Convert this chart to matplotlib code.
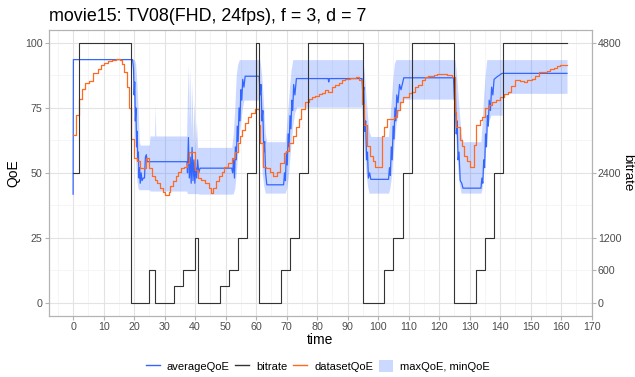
import matplotlib
matplotlib.use("Agg")
import matplotlib.pyplot as plt
from matplotlib.lines import Line2D
from matplotlib.patches import Patch
import numpy as np

plt.rcParams['font.family'] = ['Liberation Sans', 'DejaVu Sans']

# ---------------- data ----------------
# bitrate (step, value holds from t until next t)
bitrate_t = [0, 2, 19, 25, 27, 33, 36, 40, 41, 48, 51, 54, 57, 60, 61, 68, 71, 74, 77,
             95, 102, 105, 108, 111, 125, 132, 135, 138, 141, 161.9]
bitrate_v = [2400, 4800, 0, 600, 0, 300, 600, 1200, 0, 300, 600, 1200, 2400, 4800, 0,
             600, 1200, 2400, 4800, 0, 600, 1200, 2400, 4800, 0, 600, 1200, 2400, 4800, 4800]

# datasetQoE (step)
dataset_t = [0.1, 1.0, 2.0, 3.0, 4.0, 5.3, 6.4, 8.0, 9.1, 10.2, 11.3, 12.6, 14.1, 15.4, 16.1,
             16.7, 17.8, 18.3, 19.1, 19.8, 20.9, 21.9, 23.8, 24.9, 25.8, 26.7, 27.6, 28.6,
             29.5, 30.2, 31.3, 31.9, 32.8, 33.7, 34.5, 35.4, 36.3, 37.2, 38.0, 39.8, 40.9,
             41.9, 43.3, 44.4, 45.2, 46.0, 46.8, 47.9, 48.7, 49.6, 50.9, 52.0, 53.1, 54.0,
             54.8, 55.5, 56.4, 57.3, 58.4, 59.5, 60.8, 61.3, 62.4, 63.3, 64.4, 65.5, 66.8,
             67.9, 69.0, 69.9, 70.9, 72.1, 73.1, 73.9, 74.7, 76.1, 77.2, 78.3, 79.4, 80.5,
             81.6, 82.6, 83.7, 84.8, 85.9, 87.0, 88.1, 89.2, 90.8, 91.9, 92.8, 93.6, 94.7,
             95.5, 96.3, 97.2, 98.3, 99.1, 101.3, 102.0, 102.9, 105.1, 106.2, 107.2, 108.3,
             110.0, 111.0, 112.1, 113.2, 114.3, 115.4, 116.5, 118.2, 119.3, 120.9, 122.6,
             124.2, 125.1, 125.6, 126.7, 127.5, 128.3, 129.1, 130.2, 131.3, 132.2, 133.3,
             134.0, 135.1, 136.2, 137.3, 138.7, 140.1, 141.2, 142.4, 143.5, 145.0, 146.6,
             147.7, 148.8, 150.4, 151.5, 152.6, 154.3, 155.4, 156.4, 157.5, 158.6, 159.7,
             160.8, 161.9]
dataset_v = [64.6, 72.3, 78.3, 82.1, 84.7, 85.3, 88.3, 89.8, 91.4, 92.3, 93.1, 93.6, 93.9, 93.6,
             92.1, 88.9, 82.9, 74.8, 62.9, 55.6, 54.4, 51.8, 55.9, 51.8, 48.6, 47.3, 46.0,
             44.1, 42.8, 41.5, 42.8, 44.8, 46.8, 48.6, 50.5, 51.8, 52.2, 53.7, 58.2, 51.0,
             47.9, 47.3, 46.0, 44.1, 42.1, 44.1, 46.8, 48.6, 50.5, 52.4, 53.7, 55.6, 58.2,
             61.4, 64.0, 66.5, 69.1, 71.6, 73.2, 74.4, 68.4, 61.4, 52.4, 51.8, 50.5, 48.6,
             50.5, 53.7, 57.6, 58.6, 61.4, 64.0, 67.8, 70.6, 74.6, 77.4, 78.4, 79.1, 79.6,
             80.3, 80.8, 81.9, 81.2, 82.9, 83.8, 84.5, 85.7, 86.2, 86.4, 86.6, 87.0, 85.7,
             76.7, 68.4, 60.2, 56.3, 54.4, 52.4, 64.0, 67.8, 70.9, 71.4, 74.2, 77.4, 79.3,
             80.6, 81.2, 82.9, 83.8, 85.7, 86.9, 87.2, 87.6, 88.2, 87.9, 87.6, 86.9, 73.5,
             67.8, 62.7, 60.2, 56.3, 54.4, 52.4, 60.8, 68.4, 70.4, 71.4, 74.8, 76.1, 77.4,
             78.0, 79.3, 80.2, 81.2, 83.3, 85.7, 85.4, 85.0, 85.7, 86.3, 87.2, 88.9, 89.0,
             89.4, 90.1, 90.5, 91.0, 91.4, 91.4, 91.4]

# averageQoE (line)
avg_t = [0, 0.1, 19.5, 19.8, 20.0, 20.2, 20.4, 20.6, 20.8, 21.0, 21.2, 21.4, 21.6, 21.8, 22.0,
         22.3, 22.6, 23.0, 23.4, 23.7, 24.0, 24.3, 37.3, 37.5, 37.8, 38.1, 38.4, 38.7, 39.0,
         39.3, 39.6, 39.9, 40.2, 40.5, 40.8, 41.2, 41.6, 52.0, 52.3, 52.6, 52.9, 53.2, 53.5,
         53.8, 54.1, 54.4, 54.7, 55.0, 55.3, 55.6, 56.0, 56.4, 61.0, 61.3, 61.6, 61.9, 62.2,
         62.5, 62.8, 63.1, 63.5, 69.0, 69.3, 69.6, 69.9, 70.2, 70.5, 70.8, 71.1, 71.4, 71.7,
         72.0, 72.3, 72.7, 73.2, 83.6, 83.8, 84.0, 94.7, 95.0, 95.3, 95.6, 95.9, 96.2, 96.5,
         96.8, 97.2, 97.6, 103.4, 103.7, 104.0, 104.3, 104.6, 104.9, 105.2, 105.5, 105.8,
         106.1, 106.5, 107.0, 107.5, 108.4, 124.7, 125.0, 125.3, 125.6, 125.9, 126.2, 126.5,
         126.9, 127.4, 127.8, 133.7, 134.0, 134.3, 134.6, 134.9, 135.2, 135.5, 135.8, 136.1,
         136.4, 136.8, 137.2, 137.6, 138.0, 139.0, 140.6, 161.9]
avg_v = [41.8, 93.6, 93.6, 90, 80, 85, 70, 75, 60, 66, 55, 58, 48, 52, 46,
         50, 47, 48, 48, 56, 57, 54.3, 54.3, 50, 63.6, 48, 56, 46, 59.8,
         47, 55, 46, 52, 48, 55, 50, 51.8, 51.8, 50, 55, 48, 60, 55,
         68, 62, 75, 70, 82, 78, 86, 83, 87.2, 87.2, 80, 84, 70, 74,
         58, 62, 50, 45.4, 45.4, 50, 47, 58, 53, 65, 60, 72, 67, 78,
         74, 84, 80, 86.3, 86.3, 85, 86.3, 86.3, 80, 83, 66, 70, 55, 58,
         48, 50, 47.5, 47.5, 52, 49, 60, 55, 68, 63, 75, 70,
         80, 77, 84, 82, 86.6, 86.6, 78, 82, 65, 70, 55, 58,
         47, 46, 44.1, 44.1, 48, 46, 55, 52, 65, 60, 72, 68,
         78, 74, 83, 80, 86, 87, 88.3, 88.3]

# maxQoE / minQoE ribbon
rib_t = [0, 19.4, 19.7, 20.1, 20.5, 20.9, 21.3, 21.7, 22.0, 25.0, 25.2, 26.7, 26.9, 27.1,
         37.2, 37.5, 37.8, 38.1, 38.4, 38.7, 39.0, 39.3, 39.6, 40.0, 40.4, 40.8, 41.5, 52.0,
         52.5, 53.0, 53.5, 54.0, 54.5, 55.0, 55.5, 56.0, 60.8, 61.2, 61.6, 62.0, 62.5, 63.0,
         63.5, 69.5, 70.0, 70.5, 71.0, 71.5, 72.0, 72.6, 73.3, 94.6, 95.0, 95.5, 96.0, 96.5,
         97.0, 97.6, 103.4, 103.8, 104.3, 104.8, 105.3, 105.8, 106.5, 107.5, 108.4, 124.8,
         125.2, 125.7, 126.2, 126.7, 127.2, 127.8, 133.7, 134.1, 134.6, 135.1, 135.6, 136.3,
         137.0, 140.6, 140.7, 161.9]
rib_min = [93.6, 93.6, 85, 70, 55, 47, 44, 43.5, 43.5, 43.5, 43, 43, 43, 43,
           43, 42, 42, 42, 42, 42, 42, 42, 42, 42, 42, 42, 41.8, 41.8,
           42, 44, 50, 58, 65, 70, 75, 78, 78, 70, 60, 50, 45, 42.2,
           42.2, 42.2, 44, 48, 55, 62, 68, 73, 75.3, 75.3, 68, 58, 50, 45,
           42.2, 42.2, 42.2, 44, 48, 55, 62, 68, 73, 77, 78.4, 78.4,
           70, 58, 50, 45, 42.2, 42.2, 42.2, 44, 50, 57, 65, 70,
           72.2, 72.2, 80.6, 80.6]
rib_max = [93.6, 93.6, 93.6, 93.6, 92, 85, 75, 62, 60.7, 60.7, 64.2, 64.2, 76, 64.2,
           64.2, 80, 92, 70, 90, 66, 85, 62, 78, 60, 70, 59.8, 59.8, 59.8,
           65, 75, 88, 92, 93.6, 93.6, 93.6, 93.6, 93.6, 93.6, 90, 85, 75, 65,
           62, 62, 68, 76, 84, 90, 93.6, 93.6, 93.6, 93.6, 93.6, 88, 80, 72,
           66, 64, 64, 70, 78, 86, 92, 93.6, 93.6, 93.6, 93.6, 93.6,
           93.6, 88, 80, 72, 65, 62, 62, 70, 80, 88, 93.6, 93.6,
           93.6, 93.6, 93.6, 93.6]

qoe_ticks = [0, 25, 50, 75, 100]
bitrate_ticks = [0, 600, 1200, 2400, 4800]
x_ticks = list(range(0, 171, 10))
title = "movie15: TV08(FHD, 24fps), f = 3, d = 7"

# ---------------- style ----------------
c_avg = "#3366FF"
c_bit = "#333333"
c_ds = "#FF6A1F"
c_rib = (0.2, 0.4, 1.0, 0.25)
grid_major = "#E3E3E3"
grid_minor = "#F1F1F1"
border = "#B3B3B3"
txt_grey = "#4D4D4D"

W, H = 635, 377
fig = plt.figure(figsize=(W / 100, H / 100), dpi=100)
L, R, T, B = 48.7, 591.7, 30, 315.7
ax = fig.add_axes([L / W, 1 - B / H, (R - L) / W, (B - T) / H])

ax.set_xlim(-8, 170)
ax.set_ylim(-5, 105)

ax.set_xticks(x_ticks)
ax.set_xticks(np.arange(-5, 170, 10), minor=True)
ax.set_yticks(qoe_ticks)
ax.set_yticks([12.5, 37.5, 62.5, 87.5], minor=True)
ax.grid(which='major', color=grid_major, linewidth=0.8)
ax.grid(which='minor', color=grid_minor, linewidth=0.5)
ax.set_axisbelow(True)

ax.fill_between(rib_t, rib_min, rib_max, color=c_rib, linewidth=0, zorder=1)
ax.plot(avg_t, avg_v, color=c_avg, linewidth=0.9, zorder=3)
ax.step(dataset_t, dataset_v, where='post', color=c_ds, linewidth=0.9, zorder=4)

ax2 = ax.twinx()
ax2.set_ylim(-5 * 48, 105 * 48)
ax2.set_yticks(bitrate_ticks)
ax2.step(bitrate_t, bitrate_v, where='post', color=c_bit, linewidth=0.8, zorder=2)

for a in (ax, ax2):
    for s in a.spines.values():
        s.set_color(border)
        s.set_linewidth(0.8)
    a.tick_params(which='major', color=border, length=3, width=0.8,
                  labelsize=7.7, labelcolor=txt_grey, pad=1.5)
    a.tick_params(which='minor', length=0)

ax.set_xlabel("time", fontsize=10, labelpad=1)
ax.set_ylabel("QoE", fontsize=10, labelpad=3)
ax2.set_ylabel("bitrate", fontsize=9.6, rotation=-90, va='center', ha='center')
ax2.yaxis.set_label_coords((627.5 - L) / (R - L), 0.5)

fig.text(L / W, 1 - 16.5 / H, title, fontsize=12.9, ha='left', va='center')

handles = [Line2D([], [], color=c_avg, linewidth=1),
           Line2D([], [], color=c_bit, linewidth=1),
           Line2D([], [], color=c_ds, linewidth=1),
           Patch(facecolor=c_rib, edgecolor='none')]
labels = ["averageQoE", "bitrate", "datasetQoE", "maxQoE, minQoE"]
fig.legend(handles, labels, loc='center', bbox_to_anchor=(0.5, 1 - 366 / H), ncol=4,
           frameon=False, fontsize=8, handlelength=1.3, handleheight=1.4,
           columnspacing=0.5, handletextpad=0.6)

fig.savefig("out.png", dpi=100)
